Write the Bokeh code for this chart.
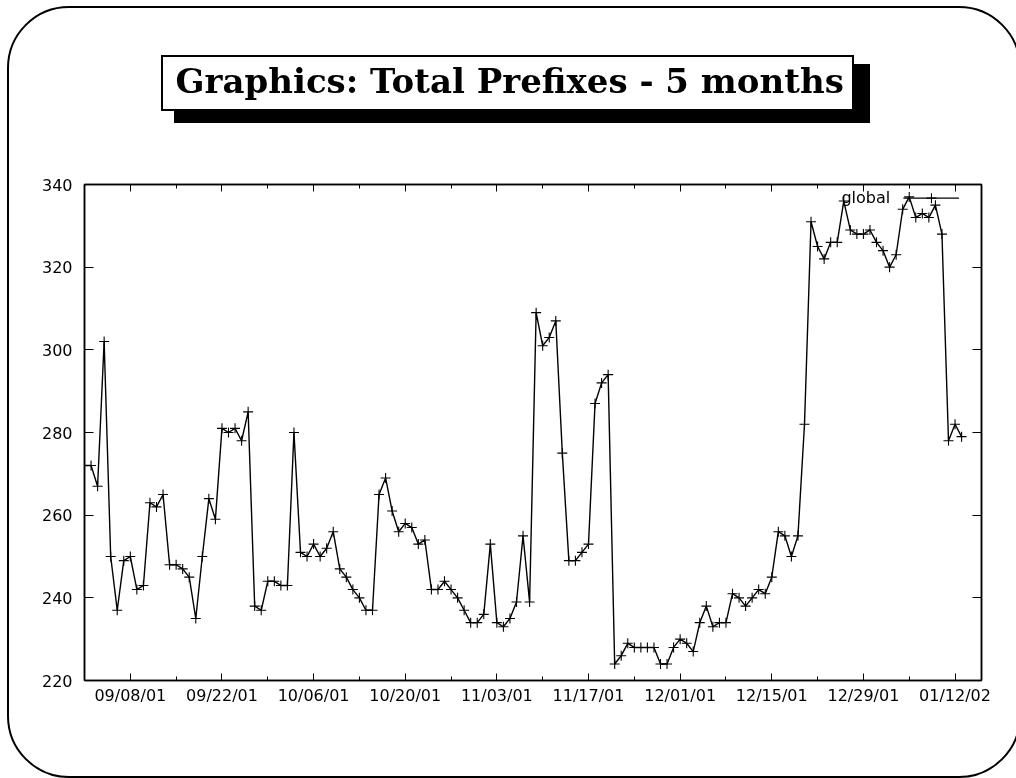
import pandas as pd
from bokeh.plotting import figure
from bokeh.layouts import column
from bokeh.models import (FixedTicker, DatetimeTickFormatter, LinearAxis, DatetimeAxis,
                          CustomJSTickFormatter, Label, Range1d, ColumnDataSource, Div, Title)
from bokeh.embed import file_html
from bokeh.resources import INLINE

# ---------------- data ----------------
TITLE = "Graphics: Total Prefixes - 5 months"
SERIES_NAME = "global"
START_DATE = "2001-09-01"          # one sample per day
X_START = "2001-09-01"
X_END = "2002-01-16 01:00"

prefixes = [
    272, 272, 267, 302, 250, 237, 249, 250, 242, 243,
    263, 262, 265, 248, 248, 247, 245, 235, 250, 264,
    259, 281, 280, 281, 278, 285, 238, 237, 244, 244,
    243, 243, 280, 251, 250, 253, 250, 252, 256, 247,
    245, 242, 240, 237, 237, 265, 269, 261, 256, 258,
    257, 253, 254, 242, 242, 244, 242, 240, 237, 234,
    234, 236, 253, 234, 233, 235, 239, 255, 239, 309,
    301, 303, 307, 275, 249, 249, 251, 253, 287, 292,
    294, 224, 226, 229, 228, 228, 228, 228, 224, 224,
    228, 230, 229, 227, 234, 238, 233, 234, 234, 241,
    240, 238, 240, 242, 241, 245, 256, 255, 250, 255,
    282, 331, 325, 322, 326, 326, 336, 329, 328, 328,
    329, 326, 324, 320, 323, 334, 337, 332, 333, 332,
    335, 328, 278, 282, 279,
]

x_major_ticks = ["2001-09-08", "2001-09-22", "2001-10-06", "2001-10-20", "2001-11-03",
                 "2001-11-17", "2001-12-01", "2001-12-15", "2001-12-29", "2002-01-12"]
x_minor_ticks = ["2001-09-01", "2001-09-15", "2001-09-29", "2001-10-13", "2001-10-27",
                 "2001-11-10", "2001-11-24", "2001-12-08", "2001-12-22", "2002-01-05"]
y_ticks = [220, 240, 260, 280, 300, 320, 340]
Y_MIN, Y_MAX = 220, 340

# legend placement (in days from START_DATE / y units)
LEG_TEXT_DAY = 123.1
LEG_Y = 336.8
LEG_LINE_DAYS = (125.1, 133.6)
LEG_MARK_DAY = 129.4


def ms(d):
    return pd.Timestamp(d).value / 1e6


def day_ms(d):
    return ms(START_DATE) + d * 86400000.0


dates = pd.date_range(START_DATE, periods=len(prefixes), freq="D")
src = ColumnDataSource(dict(date=dates, prefixes=prefixes))

# ---------------- figure ----------------
W, H = 1016, 776
FL, FT, FR, FB = 84, 184, 981, 680   # frame position on the page

p = figure(width=W, height=H, x_axis_type="datetime",
           x_range=Range1d(ms(X_START), ms(X_END)), y_range=Range1d(Y_MIN, Y_MAX),
           output_backend="svg", toolbar_location=None,
           min_border_left=FL, min_border_right=W - FR,
           min_border_top=FT, min_border_bottom=H - FB)
p.title = Title(text=TITLE, align="left", offset=91, standoff=0,
                padding=dict(top=0, right=0, bottom=84, left=0),
                text_font="DejaVu Serif", text_font_style="bold",
                text_font_size="34px", text_color="black")
p.background_fill_color = "white"
p.border_fill_color = None
p.outline_line_color = "black"
p.outline_line_width = 1.5
p.xgrid.visible = False
p.ygrid.visible = False

LABEL_FONT = "DejaVu Sans"
LABEL_SIZE = "16px"

fmt_dates = DatetimeTickFormatter(days="%m/%d/%y", months="%m/%d/%y", years="%m/%d/%y")
xticker = FixedTicker(ticks=[ms(d) for d in x_major_ticks],
                      minor_ticks=[ms(d) for d in x_minor_ticks])
yticker = FixedTicker(ticks=y_ticks, minor_ticks=[])
empty_fmt = CustomJSTickFormatter(code="return ''")


def style_axis(ax):
    ax.axis_line_color = "black"
    ax.axis_line_width = 1.5
    ax.major_tick_line_color = "black"
    ax.minor_tick_line_color = "black"
    ax.major_tick_line_width = 1
    ax.minor_tick_line_width = 1
    ax.major_tick_out = 0
    ax.minor_tick_out = 0
    ax.major_label_text_font = LABEL_FONT
    ax.major_label_text_font_size = LABEL_SIZE
    ax.major_label_text_color = "black"


xb = p.xaxis[0]
xb.ticker = xticker
xb.formatter = fmt_dates
style_axis(xb)
xb.major_tick_in = 7
xb.minor_tick_in = 4
xb.major_label_standoff = 5

yl = p.yaxis[0]
yl.ticker = yticker
style_axis(yl)
yl.major_tick_in = 9
yl.minor_tick_in = 0
yl.major_label_standoff = 12

xt = DatetimeAxis(ticker=xticker, formatter=empty_fmt)
style_axis(xt)
xt.major_tick_in = 7
xt.minor_tick_in = 4
xt.major_label_standoff = 0
p.add_layout(xt, "above")

yr = LinearAxis(ticker=yticker, formatter=empty_fmt)
style_axis(yr)
yr.major_tick_in = 9
yr.minor_tick_in = 0
yr.major_label_standoff = 0
p.add_layout(yr, "right")

# ---------------- series ----------------
p.line("date", "prefixes", source=src, line_color="black", line_width=1.4)
p.scatter("date", "prefixes", source=src, marker="cross", size=10,
          line_color="black", line_width=1.1)

# legend key: label on the left, sample on the right
p.add_layout(Label(x=day_ms(LEG_TEXT_DAY), y=LEG_Y, text=SERIES_NAME,
                   text_align="right", text_baseline="middle",
                   text_font=LABEL_FONT, text_font_size=LABEL_SIZE,
                   text_color="black"))
leg_src = ColumnDataSource(dict(x=[day_ms(LEG_LINE_DAYS[0]), day_ms(LEG_LINE_DAYS[1])],
                                y=[LEG_Y - 0.1, LEG_Y - 0.1]))
p.line("x", "y", source=leg_src, line_color="black", line_width=1.1)
p.scatter(x=[day_ms(LEG_MARK_DAY)], y=[LEG_Y - 0.1], marker="cross", size=10,
          line_color="black", line_width=1.1)

# ---------------- slide decorations (behind the transparent canvas) ----------------
def fixed_box(left, top, width, height, extra):
    return ('<div style="position:fixed;left:%dpx;top:%dpx;width:%dpx;height:%dpx;'
            'box-sizing:border-box;z-index:-1;pointer-events:none;%s"></div>'
            % (left, top, width, height, extra))


deco_html = (
    fixed_box(7, 6, 1014, 772, "border:2.5px solid #000;border-radius:62px;")
    + fixed_box(174, 64, 696, 59, "background:#000;")
    + fixed_box(161, 55, 693, 56, "background:#fff;border:2px solid #000;")
)
deco = Div(text=deco_html, width=10, height=1, margin=0)

layout = column(p, deco, spacing=0)
open("out.html", "w").write(file_html(layout, INLINE))
